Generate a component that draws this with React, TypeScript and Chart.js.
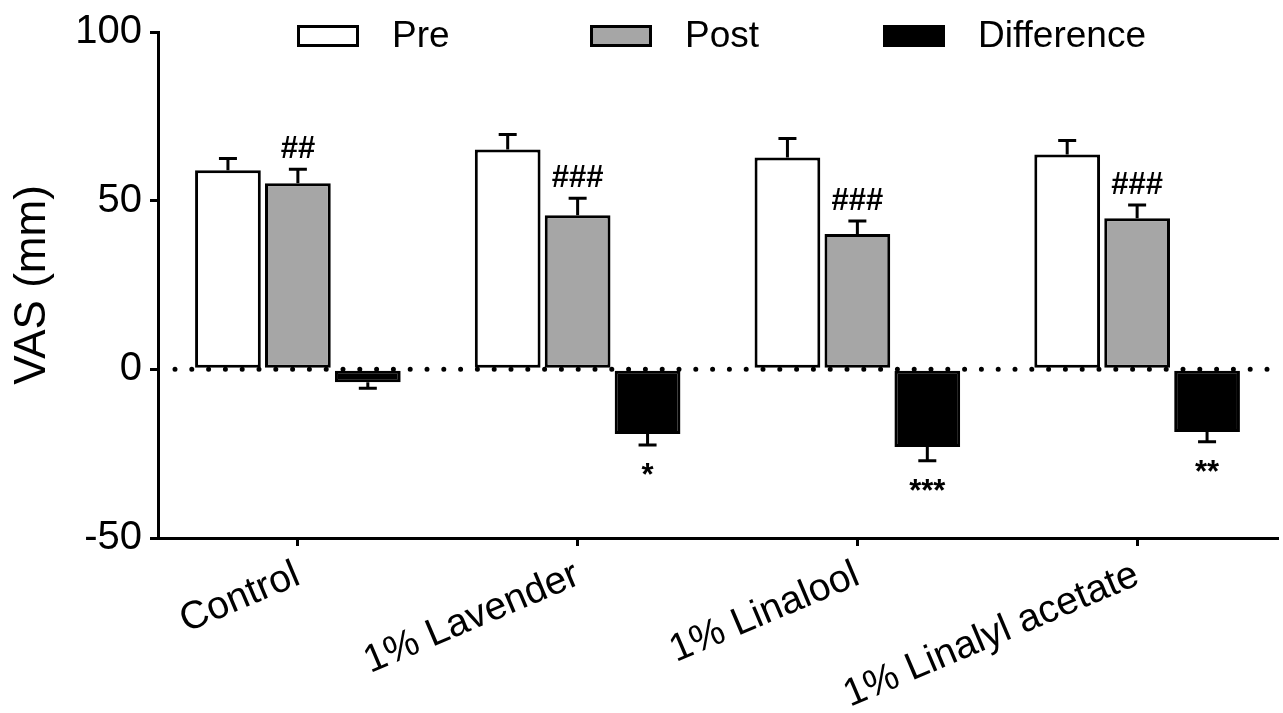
import { useEffect, useRef } from "react";
import { Chart, registerables } from "chart.js";

Chart.register(...registerables);

const categories = ["Control", "1% Lavender", "1% Linalool", "1% Linalyl acetate"];
const seriesLabels = ["Pre", "Post", "Difference"];
const preValues = [59.0, 65.2, 62.8, 63.7];
const preSem = [3.5, 4.4, 5.6, 4.1];
const postValues = [55.2, 45.7, 40.1, 44.8];
const postSem = [4.1, 5.0, 3.9, 3.9];
const diffValues = [-3.8, -19.2, -23.0, -18.6];
const diffSem = [1.8, 3.2, 4.1, 2.9];
const preMarks = ["", "", "", ""];
const postMarks = ["##", "###", "###", "###"];
const diffMarks = ["", "*", "***", "**"];
const yTickValues = [-50, 0, 50, 100];

const FONT = "'Liberation Sans', Arial, Helvetica, sans-serif";

const zeroLinePlugin = {
  id: "zeroLine",
  afterDatasetsDraw(chart: any) {
    const { ctx, chartArea, scales } = chart;
    const y0 = scales.y.getPixelForValue(0);
    ctx.save();
    ctx.strokeStyle = "#000";
    ctx.lineWidth = 5;
    ctx.lineCap = "round";
    ctx.setLineDash([0, 16.8]);
    ctx.beginPath();
    ctx.moveTo(chartArea.left + 17, y0);
    ctx.lineTo(chartArea.right, y0);
    ctx.stroke();
    ctx.restore();
  },
};

const errorBarPlugin = {
  id: "errorBars",
  afterDatasetsDraw(chart: any) {
    const { ctx, scales } = chart;
    chart.data.datasets.forEach((ds: any, di: number) => {
      const meta = chart.getDatasetMeta(di);
      meta.data.forEach((bar: any, i: number) => {
        const v = ds.data[i];
        const s = ds.sem[i];
        const dir = v >= 0 ? 1 : -1;
        const end = scales.y.getPixelForValue(v + dir * s);
        ctx.save();
        ctx.strokeStyle = "#000";
        ctx.lineWidth = 3;
        ctx.beginPath();
        ctx.moveTo(bar.x, bar.y);
        ctx.lineTo(bar.x, end);
        ctx.moveTo(bar.x - 9, end);
        ctx.lineTo(bar.x + 9, end);
        ctx.stroke();
        const mark = ds.marks[i];
        if (mark) {
          ctx.fillStyle = "#000";
          ctx.font = `bold 31px ${FONT}`;
          ctx.textAlign = "center";
          ctx.textBaseline = "alphabetic";
          if (dir > 0) {
            ctx.fillText(mark, bar.x, end - 11);
          } else {
            ctx.fillText(mark, bar.x, end + 40);
          }
        }
        ctx.restore();
      });
    });
  },
};

const legendPlugin = {
  id: "customLegend",
  afterDraw(chart: any) {
    const { ctx, chartArea } = chart;
    ctx.save();
    chart.data.datasets.forEach((ds: any, i: number) => {
      const bx = chartArea.left + 139 + i * 293;
      const by = 25;
      ctx.fillStyle = ds.backgroundColor;
      ctx.fillRect(bx, by, 62, 22);
      ctx.strokeStyle = "#000";
      ctx.lineWidth = 3;
      ctx.strokeRect(bx + 1.5, by + 1.5, 59, 19);
      ctx.fillStyle = "#000";
      ctx.font = `37px ${FONT}`;
      ctx.textAlign = "left";
      ctx.textBaseline = "middle";
      ctx.fillText(ds.label, bx + 95, by + 12);
    });
    ctx.restore();
  },
};

export default function App() {
  const canvasRef = useRef<HTMLCanvasElement | null>(null);

  useEffect(() => {
    const canvas = canvasRef.current;
    if (!canvas) return;
    const chart = new Chart(canvas, {
      type: "bar",
      data: {
        labels: categories,
        datasets: [
          {
            label: seriesLabels[0],
            data: preValues,
            sem: preSem,
            marks: preMarks,
            backgroundColor: "#ffffff",
            borderColor: "#000000",
            borderWidth: 3,
            borderSkipped: false,
          } as any,
          {
            label: seriesLabels[1],
            data: postValues,
            sem: postSem,
            marks: postMarks,
            backgroundColor: "#a6a6a6",
            borderColor: "#000000",
            borderWidth: 3,
            borderSkipped: false,
          } as any,
          {
            label: seriesLabels[2],
            data: diffValues,
            sem: diffSem,
            marks: diffMarks,
            backgroundColor: "#000000",
            borderColor: "#000000",
            borderWidth: 3,
            borderSkipped: false,
          } as any,
        ],
      },
      options: {
        animation: false,
        responsive: false,
        maintainAspectRatio: false,
        events: [],
        datasets: {
          bar: {
            categoryPercentage: 0.75,
            barPercentage: 0.94,
          },
        },
        layout: { padding: { top: 30, right: 6, left: 0, bottom: 0 } },
        plugins: {
          legend: { display: false },
          tooltip: { enabled: false },
        },
        scales: {
          x: {
            offset: true,
            grid: {
              display: true,
              drawOnChartArea: false,
              drawTicks: true,
              tickLength: 8,
              color: "#000",
              lineWidth: 3,
              offset: false,
            },
            border: { display: true, color: "#000", width: 3 },
            ticks: {
              color: "#000",
              font: { family: FONT, size: 39 },
              minRotation: 23,
              maxRotation: 23,
              padding: 6,
              autoSkip: false,
            },
            afterFit: (scale: any) => {
              scale.height = 175;
            },
          },
          y: {
            min: -50,
            max: 100,
            afterBuildTicks: (scale: any) => {
              scale.ticks = yTickValues.map((v) => ({ value: v }));
            },
            grid: {
              display: true,
              drawOnChartArea: false,
              drawTicks: true,
              tickLength: 8,
              color: "#000",
              lineWidth: 3,
            },
            border: { display: true, color: "#000", width: 3 },
            ticks: {
              color: "#000",
              font: { family: FONT, size: 40 },
              padding: 8,
            },
            title: {
              display: true,
              text: "VAS (mm)",
              color: "#000",
              font: { family: FONT, size: 44 },
              padding: { top: 6, bottom: 0 },
            },
            afterFit: (scale: any) => {
              scale.width = 158;
            },
          },
        },
      } as any,
      plugins: [zeroLinePlugin, errorBarPlugin, legendPlugin],
    });
    return () => chart.destroy();
  }, []);

  return (
    <div style={{ position: "absolute", left: 0, top: 0, width: 1283, height: 713, background: "#fff" }}>
      <canvas ref={canvasRef} width={1283} height={713} style={{ display: "block" }} />
    </div>
  );
}
